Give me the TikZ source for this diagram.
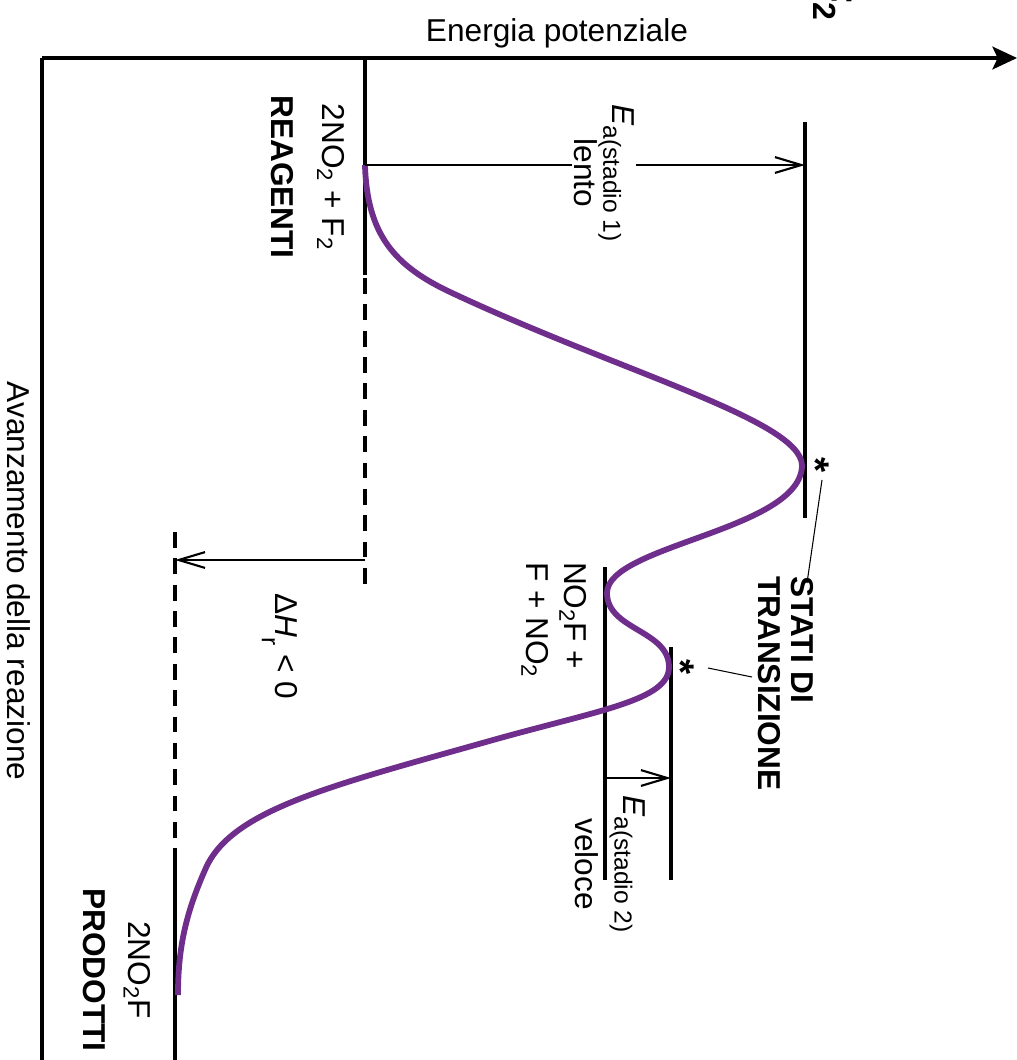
\documentclass[tikz,border=0pt]{standalone}
\usepackage{fontspec}
\setmainfont{Liberation Sans}
\usetikzlibrary{arrows.meta,positioning}
\definecolor{pathviolet}{RGB}{112,46,140}
\newcommand{\lowsub}[2][5pt]{\raisebox{-#1}{\fontsize{14}{14}\selectfont #2}}
\tikzset{
  txt/.style={font=\fontsize{18}{21.6}\selectfont, inner sep=1pt},
  vtxt/.style={txt, rotate=-90},
  level/.style={line width=1.8pt},
  dlevel/.style={line width=1.8pt, dash pattern=on 9pt off 6pt},
  gap/.style={line width=1.2pt, -{Straight Barb[length=15pt,width=9pt]}},
  leader/.style={line width=0.6pt},
  star/.style={vtxt, anchor=base, font=\fontsize{22}{24}\selectfont\bfseries},
}

\begin{document}
\begin{tikzpicture}[x=2cm,y=-2cm,>=Stealth]
  \useasboundingbox (0,0) rectangle (10.17,10.60);
  % Axes: energy to the right, reaction coordinate downwards.
  \coordinate (O) at (0.42,0.58);
  \coordinate (Emax) at (10.17,0.58);
  \coordinate (Xmax) at (0.42,10.60);
  \draw[line width=1.8pt,-{Stealth[length=14pt,width=13pt,inset=3pt]}] (O) -- (Emax);
  \draw[line width=1.8pt] (O) -- (Xmax);
  \node[txt, anchor=base] (elab) at (5.57,0.41) {Energia potenziale};
  \node[vtxt, anchor=base, inner sep=0pt] (xlab) at (0.07,5.81) {Avanzamento della reazione};
  \node[vtxt, font=\fontsize{26}{30}\selectfont\bfseries, anchor=east, inner sep=0pt] (frag) at (8.33,0.22) {F\textsubscript{2}};
  % Energy levels.
  \draw[level] (3.65,0.58) -- (3.65,2.75);
  \draw[dlevel] (3.65,2.78) -- (3.65,5.87);
  \draw[dlevel] (1.75,5.32) -- (1.75,8.63);
  \draw[level] (1.75,8.63) -- (1.75,10.60);
  \draw[level] (8.05,1.22) -- (8.05,5.18);
  \draw[level] (6.05,5.67) -- (6.05,8.80);
  \draw[level] (6.71,6.47) -- (6.71,8.80);
  % Reaction path.
  \draw[pathviolet, line width=3.3pt]
    (3.65,1.65) .. controls (3.67,2.35) and (3.95,2.66) .. (4.50,2.92)
    .. controls (6.20,3.72) and (8.00,4.20) .. (8.02,4.65)
    .. controls (8.02,5.30) and (6.07,5.45) .. (6.07,5.93)
    .. controls (6.07,6.30) and (6.69,6.30) .. (6.69,6.67)
    .. controls (6.69,7.00) and (6.00,7.10) .. (4.93,7.40)
    .. controls (3.30,7.86) and (2.30,8.10) .. (2.05,8.70)
    .. controls (1.85,9.15) and (1.78,9.50) .. (1.78,9.95);
  % Gaps between levels.
  \coordinate (R) at (3.65,1.65);
  \coordinate (TS1) at (8.05,1.65);
  \coordinate (Rd) at (3.65,5.60);
  \coordinate (Pd) at (1.75,5.60);
  \coordinate (I) at (6.05,7.78);
  \coordinate (TS2) at (6.71,7.78);
  \draw[gap] (R) -- (TS1);
  \draw[gap] (Rd) -- (Pd);
  \draw[gap] (I) -- (TS2);
  \node[vtxt, align=center, fill=white] (ea1) at (6.04,1.73) {\textit{E}\lowsub{a(stadio 1)}\\lento};
  \node[vtxt, align=center] (ea2) at (6.10,8.64) {\textit{E}\lowsub{a(stadio 2)}\\[6pt]veloce};
  \node[vtxt] (dh) at (2.80,6.46) {Δ\textit{H}\lowsub[8pt]{r} < 0};
  % Species.
  \node[vtxt, align=center] (reag) at (3.08,1.77) {2NO\textsubscript{2} + F\textsubscript{2}\\[7pt]\textbf{REAGENTI}};
  \node[vtxt, align=center] (prod) at (1.17,9.70) {2NO\textsubscript{2}F\\[4pt]\textbf{PRODOTTI}};
  \node[vtxt, align=left, anchor=west] (inter) at (5.54,5.60) {NO\textsubscript{2}F +\\F + NO\textsubscript{2}};
  \node[vtxt, align=left, anchor=west, font=\fontsize{18}{19}\selectfont\bfseries] (stati) at (7.86,5.74) {STATI DI\\TRANSIZIONE};
  \node[star] (ast1) at (8.02,4.65) {*};
  \node[star] (ast2) at (6.67,6.67) {*};
  \coordinate (t1a) at (8.22,4.80);
  \coordinate (t1b) at (8.07,5.83);
  \coordinate (t2a) at (7.08,6.68);
  \coordinate (t2b) at (7.52,6.77);
  \draw[leader] (t1a) -- (t1b);
  \draw[leader] (t2a) -- (t2b);
\end{tikzpicture}
\end{document}
